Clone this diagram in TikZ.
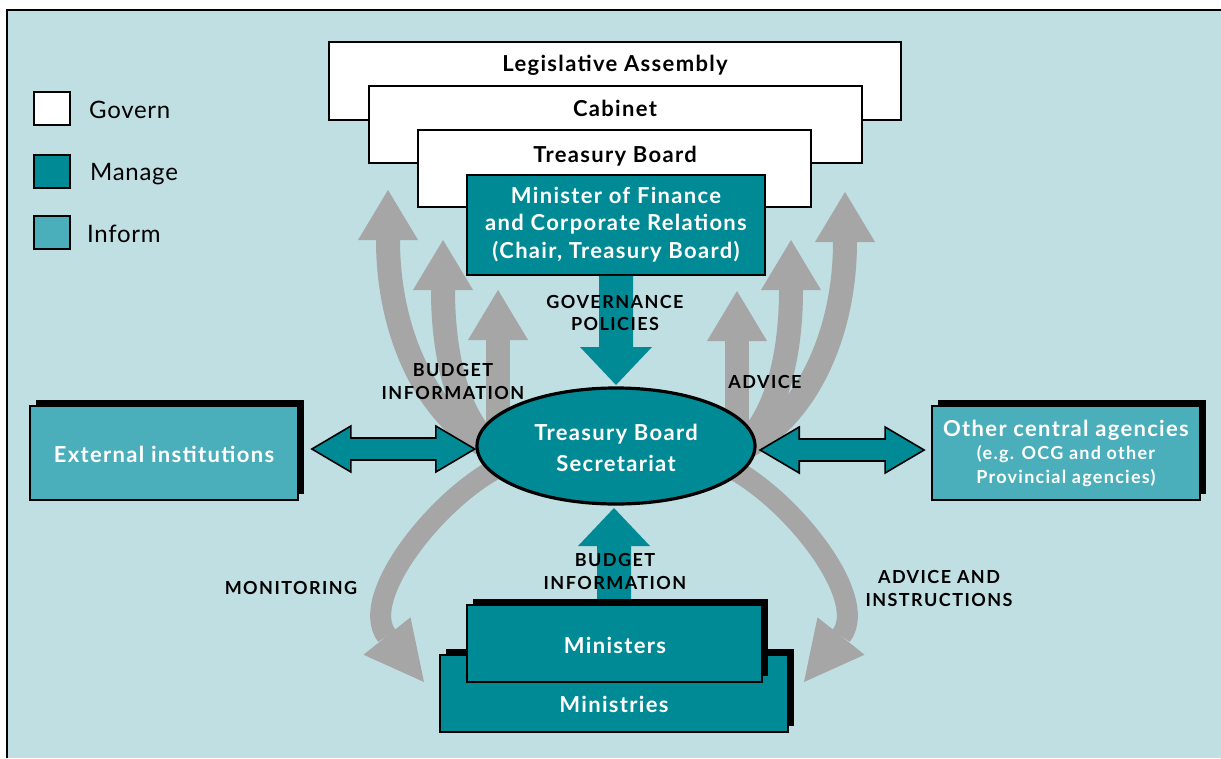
\documentclass[tikz,border=0pt]{standalone}
\usepackage{fontspec}
\setmainfont{Lato}
\usetikzlibrary{calc,shadows,shapes.geometric}
\definecolor{panel}{RGB}{192,223,227}
\definecolor{manage}{RGB}{0,138,150}
\definecolor{inform}{RGB}{75,174,187}
\definecolor{flowgray}{RGB}{166,166,166}

% double-headed link arrow between two points on one horizontal line
\newcommand\linkarrow[2]{%
  \draw[linkstyle] (#1) -- ($(#1)+(39,-23)$) -- ($(#1)+(39,-11)$)
    -- ($(#2)+(-39,-11)$) -- ($(#2)+(-39,-23)$) -- (#2)
    -- ($(#2)+(-39,23)$) -- ($(#2)+(-39,11)$)
    -- ($(#1)+(39,11)$) -- ($(#1)+(39,23)$) -- cycle;}
% upward gray arrow head with its tip at #1
\newcommand\uphead[1]{%
  \fill[flowgray] (#1) -- ++(-30,50) -- ++(60,0) -- cycle;}

\begin{document}
\begin{tikzpicture}[x=1pt,y=-1pt,
  govbox/.style={draw=black, line width=1.8pt, fill=white, inner sep=0pt},
  managebox/.style={draw=black, line width=1.8pt, fill=manage, inner sep=0pt},
  informbox/.style={draw=black, line width=1.8pt, fill=inform, inner sep=0pt},
  boxshadow/.style={general shadow={fill=black, shadow xshift=6pt, shadow yshift=6pt}},
  titletext/.style={anchor=base, inner sep=0pt,
    font=\bfseries\fontsize{22}{26}\selectfont\addfontfeature{LetterSpace=6}},
  whitetext/.style={titletext, text=white},
  smalltext/.style={anchor=base, inner sep=0pt, text=white,
    font=\bfseries\fontsize{18}{21}\selectfont\addfontfeature{LetterSpace=7}},
  flowlabel/.style={anchor=base, inner sep=0pt,
    font=\bfseries\fontsize{18}{21}\selectfont\addfontfeature{LetterSpace=8}},
  legendtext/.style={anchor=base west, inner sep=0pt,
    font=\fontsize{24}{28}\selectfont\addfontfeature{LetterSpace=3}},
  legendbox/.style={draw=black, line width=1.6pt, minimum width=36pt, minimum height=33pt, inner sep=0pt},
  grayshaft/.style={draw=flowgray, line width=24pt},
  linkstyle/.style={fill=manage, draw=black, line width=1.6pt, line join=miter},
]
\useasboundingbox (0,0) rectangle (1221,758);

% page and panel
\fill[white] (0,0) rectangle (1221,758);
\fill[panel] (7,10) rectangle (1221,758);
\draw[line width=1.2pt] (7,758) -- (7,10) -- (1221,10);

% legend
\node[legendbox, fill=white]  (lgov) at (52,108.5) {};
\node[legendbox, fill=manage] (lman) at (52,171.5) {};
\node[legendbox, fill=inform] (linf) at (52,232.5) {};
\node[legendtext] (lgovt) at (89,118) {Govern};
\node[legendtext] (lmant) at (90,180) {Manage};
\node[legendtext] (linft) at (87,242) {Inform};

% central secretariat node (placed first so arrows can refer to it)
\path node[ellipse, minimum width=278pt, minimum height=116pt, inner sep=0pt] (tbs) at (616,446) {};

% gray flows up to the governing bodies
\coordinate (L1tip) at (388,190);
\coordinate (L2tip) at (443,240);
\coordinate (L3tip) at (498,290);
\coordinate (R1tip) at (845,192);
\coordinate (R2tip) at (791,240);
\coordinate (R3tip) at (737,291);
\draw[grayshaft] ($(L1tip)+(0,50)$) .. controls +(0,90) and +(-65,-33) .. ($(tbs.west)+(13,2)$);
\draw[grayshaft] ($(L2tip)+(0,50)$) .. controls +(0,70) and +(-32,-26) .. ($(tbs.west)+(15,0)$);
\draw[grayshaft] ($(L3tip)+(0,50)$) -- ($(L3tip |- tbs.center)$);
\draw[grayshaft] ($(R1tip)+(0,50)$) .. controls +(0,88) and +(65,-33) .. ($(tbs.east)+(-11,2)$);
\draw[grayshaft] ($(R2tip)+(0,50)$) .. controls +(0,70) and +(32,-26) .. ($(tbs.east)+(-13,0)$);
\draw[grayshaft] ($(R3tip)+(0,50)$) -- ($(R3tip |- tbs.center)$);
\uphead{L1tip} \uphead{L2tip} \uphead{L3tip}
\uphead{R1tip} \uphead{R2tip} \uphead{R3tip}

% gray flows down to the ministries
\coordinate (monbase) at (387,636);
\coordinate (montip) at (424,682);
\coordinate (advbase) at (841,636);
\coordinate (advtip) at (804,682);
\draw[grayshaft, line width=21pt] ($(tbs.west)+(33,16)$) .. controls (445,488) and (356,597) .. (monbase);
\fill[flowgray] (montip) -- (410.5,617.3) -- (363.5,654.7) -- cycle;
\draw[grayshaft, line width=21pt] ($(tbs.east)+(-37,16)$) .. controls (783,488) and (872,597) .. (advbase);
\fill[flowgray] (advtip) -- (817.5,617.3) -- (864.5,654.7) -- cycle;

% governing bodies
\node[govbox, minimum width=572pt, minimum height=78pt] (leg) at (615,81) {};
\node[govbox, minimum width=493pt, minimum height=77pt] (cab) at (615.5,124.5) {};
\node[govbox, minimum width=393pt, minimum height=77pt] (tb) at (614.5,168.5) {};
\node[managebox, minimum width=298pt, minimum height=100pt] (min) at (616,225) {};
\node[titletext] (legt) at (615,71) {Legislative Assembly};
\node[titletext] (cabt) at (615,116) {Cabinet};
\node[titletext] (tbt) at (615,162) {Treasury Board};
\node[whitetext] (min1) at (616,203) {Minister of Finance};
\node[whitetext] (min2) at (616,230) {and Corporate Relations};
\node[whitetext] (min3) at (616,258) {(Chair, Treasury Board)};

% governance policies flow
\coordinate (govtip) at (616,385);
\fill[manage] ($(min.south)+(-17,0)$) -- ($(govtip)+(-17,-38)$) -- ($(govtip)+(-36,-38)$)
  -- (govtip) -- ($(govtip)+(36,-38)$) -- ($(govtip)+(17,-38)$) -- ($(min.south)+(17,0)$) -- cycle;

% secretariat
\draw[fill=manage, line width=3.2pt] (tbs.center) ellipse [x radius=139, y radius=58];
\node[whitetext] (tbs1) at (616,440) {Treasury Board};
\node[whitetext] (tbs2) at (616,471) {Secretariat};

% side institutions
\node[informbox, boxshadow, minimum width=268pt, minimum height=94pt] (ext) at (164,453) {};
\node[whitetext] (extt) at (164,462) {External institutions};
\node[informbox, boxshadow, minimum width=268pt, minimum height=94pt] (oca) at (1066,453) {};
\node[whitetext] (oca1) at (1066,436) {Other central agencies};
\node[smalltext] (oca2) at (1066,459) {(e.g. OCG and other};
\node[smalltext] (oca3) at (1066,483) {Provincial agencies)};

\coordinate (extA) at ($(ext.east)+(13,-4)$);
\coordinate (extB) at ($(tbs.west)+(-2,3)$);
\coordinate (ocaA) at ($(tbs.east)+(5,4)$);
\coordinate (ocaB) at ($(oca.west)+(-7,-3)$);
\linkarrow{extA}{extB}
\linkarrow{ocaA}{ocaB}

% ministries and ministers
\node[managebox, boxshadow, minimum width=348pt, minimum height=77pt] (mies) at (614,693.5) {};
\coordinate (budtip) at (614,508);
\fill[manage] ($(614,604)+(-17,0)$) -- ($(budtip)+(-17,38)$) -- ($(budtip)+(-36,38)$)
  -- (budtip) -- ($(budtip)+(36,38)$) -- ($(budtip)+(17,38)$) -- ($(614,604)+(17,0)$) -- cycle;
\node[managebox, boxshadow, minimum width=295pt, minimum height=77pt] (mins) at (614.5,643.5) {};
\node[whitetext] (minst) at (615,653) {Ministers};
\node[whitetext] (miest) at (614,712) {Ministries};

% flow labels
\node[flowlabel] (gov1) at (615,308) {GOVERNANCE};
\node[flowlabel] (gov2) at (615,330) {POLICIES};
\node[flowlabel] (bi1) at (453,376) {BUDGET};
\node[flowlabel] (bi2) at (453,399) {INFORMATION};
\node[flowlabel] (adv) at (765,388) {ADVICE};
\node[flowlabel] (bb1) at (615,566) {BUDGET};
\node[flowlabel] (bb2) at (615,589) {INFORMATION};
\node[flowlabel] (mon) at (291,594) {MONITORING};
\node[flowlabel] (ai1) at (939,583) {ADVICE AND};
\node[flowlabel] (ai2) at (939,606) {INSTRUCTIONS};
\end{tikzpicture}
\end{document}
